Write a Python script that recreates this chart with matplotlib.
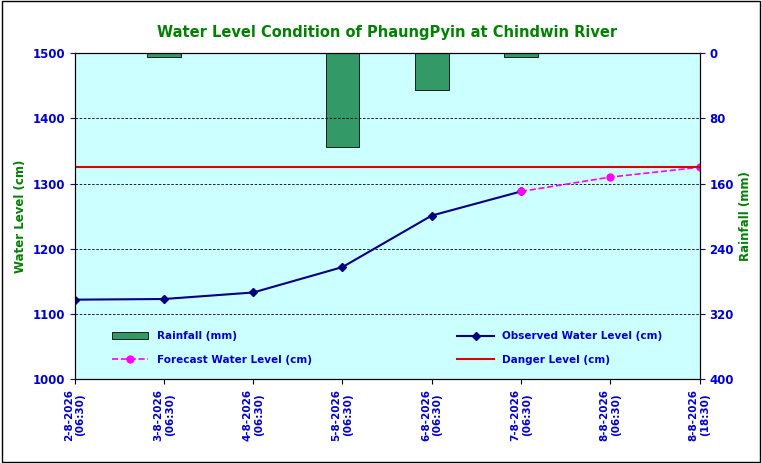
import matplotlib.pyplot as plt
import numpy as np

dates = ['2-8-2026\n(06:30)', '3-8-2026\n(06:30)', '4-8-2026\n(06:30)', '5-8-2026\n(06:30)',
         '6-8-2026\n(06:30)', '7-8-2026\n(06:30)', '8-8-2026\n(06:30)', '8-8-2026\n(18:30)']
observed = [1122, 1123, 1133, 1172, 1251, 1288]
forecast_idx = [5, 6, 7]
forecast = [1288, 1310, 1325]
rainfall = [0, 5, 0, 115, 45, 5, 0, 0]
danger = 1325

fig = plt.figure(figsize=(7.62, 4.63), dpi=100)
ax = fig.add_axes([0.098, 0.181, 0.820, 0.704])
x = np.arange(len(dates))

ax2 = ax.twinx()
ax2.patch.set_visible(True)
ax2.set_facecolor('#CCFFFF')
bars = ax2.bar(x, rainfall, width=0.38, color='#339966', edgecolor='black', linewidth=0.6,
               label='Rainfall (mm)')
ax2.set_ylim(400, 0)
ax2.set_yticks([0, 80, 160, 240, 320, 400])
ax2.set_ylabel('Rainfall (mm)', color='green', fontweight='bold', fontsize=8.5)
ax2.tick_params(axis='y', colors='#0000CC', labelsize=8.5)
for t in ax2.get_yticklabels():
    t.set_fontweight('bold')

ax.set_zorder(ax2.get_zorder() + 1)
ax.patch.set_visible(False)

for v in [1100, 1200, 1300, 1400, 1500]:
    ax.axhline(v, color='black', linestyle='--', linewidth=0.6, dashes=(3, 2))
l1, = ax.plot(x[:len(observed)], observed, color='#000080', marker='D', markersize=4,
              linewidth=1.5, label='Observed Water Level (cm)')
l2, = ax.plot(forecast_idx, forecast, color='#FF00FF', marker='o', markersize=5,
              linestyle='--', linewidth=1.2, label='Forecast Water Level (cm)')
l3 = ax.axhline(danger, color='#DD0000', linewidth=1.5, label='Danger Level (cm)')

ax.set_xlim(0, len(dates) - 1)
ax.set_ylim(1000, 1500)
ax.set_yticks([1000, 1100, 1200, 1300, 1400, 1500])
ax.set_xticks(x)
ax.set_xticklabels(dates, rotation=90, fontsize=7.5, fontweight='bold', color='#0000CC')
ax.tick_params(axis='y', colors='#0000CC', labelsize=8.5)
for t in ax.get_yticklabels():
    t.set_fontweight('bold')
ax.set_ylabel('Water Level (cm)', color='green', fontweight='bold', fontsize=8.5)
ax.set_title('Water Level Condition of PhaungPyin at Chindwin River', color='green',
             fontweight='bold', fontsize=10.5, pad=12)

handles = [bars, l2, l1, l3]
leg = ax.legend(handles, [h.get_label() for h in handles],
                ncol=2, loc='center', bbox_to_anchor=(0.5, 0.095), frameon=False,
                fontsize=7.5, columnspacing=14, handlelength=3.5, labelspacing=1.3)
for t in leg.get_texts():
    t.set_color('#0000CC')
    t.set_fontweight('bold')

fig.patches.append(plt.Rectangle((0.003, 0.003), 0.994, 0.994, transform=fig.transFigure,
                                 fill=False, edgecolor='black', linewidth=1))
fig.savefig('out.png')
